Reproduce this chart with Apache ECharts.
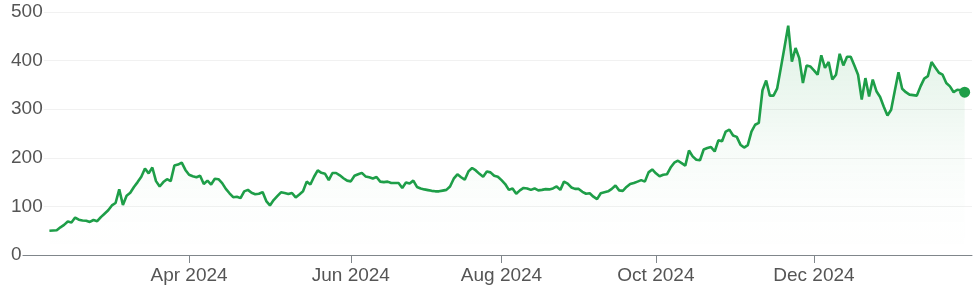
<!DOCTYPE html>
<html><head><meta charset="utf-8">
<script src="https://cdn.jsdelivr.net/npm/echarts@6/dist/echarts.min.js"></script>
<style>html,body{margin:0;padding:0;background:#fff}#c{width:980px;height:292px}</style>
</head><body><div id="c"></div>
<script>
// Trading-day calendar of the axis
const axisStart = '2024-01-24';
const axisEnd = '2025-02-05';
const dataStart = '2024-02-05';
const holidays = ['2024-02-19','2024-03-29','2024-05-27','2024-06-19','2024-07-04','2024-09-02',
  '2024-11-28','2024-12-25','2025-01-01','2025-01-09','2025-01-20'];
const tickDates = ['2024-04-01','2024-06-03','2024-08-01','2024-10-01','2024-12-02'];
const yTicks = [0, 100, 200, 300, 400, 500];

// Daily closing values, month by month
const pFeb24 = [50,50.5,51,57,62,69,67,77,72.6,71,70.6,68,72,69.5,78,85,92,102];
const pMar24 = [107,135,103,122,128,140,150,161,178,168,180,152,141,150,156,152,184,186,190,175];
const pApr24 = [165,162,160,163,146,153,145,157,156,148,136,127,119,120,117,131,134,128,125,126,129.5,111];
const pMay24 = [102,113,121,129,127.6,125.5,127.6,118.5,124.5,131,151,145,161,174,169,167,154,168.7,168.7,164,158,153];
const pJun24 = [151.5,163,166,169,161.7,160,157.5,160.5,151,150,151,148,148,148,138,149,147,153,140];
const pJul24 = [137,135,133.5,132,131,131,132.5,134,141,157,166,160,155,172,179,174,167,161,172,170,163,161];
const pAug24 = [154,146,134,137,126,133,138,137,134,137,133,134,135.5,135,137,141,134,151,147,139,136,136];
const pSep24 = [130,126,127,120,115,127,129,131,136,143,133,132,140,146,148,151,154,151,170,176];
const pOct24 = [168,162,165,166,180,190,194,189,184,215,203,196,195,217,220,222,213,236,234,254,258,246,243];
const pNov24 = [227,221,226,254,268,272,339,359,328,328,343,385,428,472,398,426,405,354,390,388];
const pDec24 = [380,371,411,385,397,361,371,414,390,408,408,390,371,320,364,326,361,337,325,305,287];
const pJan25 = [299,338,376,342,335,330,329,328,347,363,368,397,386,375,371,354,347,335,340,339];
const pFeb25 = [335];

const prices = [].concat(pFeb24,pMar24,pApr24,pMay24,pJun24,pJul24,pAug24,pSep24,pOct24,pNov24,pDec24,pJan25,pFeb25);

function tradingDays(a, b) {
  const out = [];
  const d = new Date(a + 'T00:00:00Z');
  const e = new Date(b + 'T00:00:00Z');
  while (d <= e) {
    const w = d.getUTCDay();
    const s = d.toISOString().slice(0, 10);
    if (w !== 0 && w !== 6 && holidays.indexOf(s) < 0) out.push(s);
    d.setUTCDate(d.getUTCDate() + 1);
  }
  return out;
}
const categories = tradingDays(axisStart, axisEnd);
const s0 = categories.indexOf(dataStart);
const lineData = categories.map((d, i) => (i >= s0 && i - s0 < prices.length) ? prices[i - s0] : null);
const lastIdx = s0 + prices.length - 1;

const MONTHS = ['Jan','Feb','Mar','Apr','May','Jun','Jul','Aug','Sep','Oct','Nov','Dec'];
const GREEN = '#1e9e48';
const FONT = '"Liberation Sans", Arial, sans-serif';
const showTick = (i, v) => tickDates.indexOf(v) >= 0;

const chart = echarts.init(document.getElementById('c'), null, {renderer: 'canvas'});
chart.setOption({
  animation: false,
  grid: {left: 20, right: 8, top: 12, bottom: 37, containLabel: false},
  xAxis: {
    type: 'category',
    data: categories,
    boundaryGap: false,
    axisLine: {lineStyle: {color: '#80868b', width: 1}},
    axisTick: {show: true, interval: showTick, length: 8, lineStyle: {color: '#80868b', width: 1}},
    axisLabel: {
      interval: showTick, margin: 11, color: '#555', fontSize: 19, fontFamily: FONT,
      formatter: v => MONTHS[+v.slice(5, 7) - 1] + ' ' + v.slice(0, 4)
    },
    splitLine: {show: false}
  },
  yAxis: {
    type: 'value',
    min: yTicks[0], max: yTicks[yTicks.length - 1], interval: 100,
    axisLine: {show: false}, axisTick: {show: false},
    axisLabel: {
      align: 'left', margin: 9, color: '#555', fontSize: 19, fontFamily: FONT,
      backgroundColor: '#fff', padding: [0, 1, 0, 0]
    },
    splitLine: {lineStyle: {color: '#f1f1f1', width: 1}}
  },
  series: [
    {
      type: 'line',
      data: lineData,
      showSymbol: false,
      lineStyle: {color: GREEN, width: 2.6},
      itemStyle: {color: GREEN},
      areaStyle: {
        color: {
          type: 'linear', x: 0, y: 0, x2: 0, y2: 1,
          colorStops: [
            {offset: 0, color: 'rgba(31,157,72,0.20)'},
            {offset: 0.3, color: 'rgba(31,157,72,0.12)'},
            {offset: 0.55, color: 'rgba(31,157,72,0.05)'},
            {offset: 0.8, color: 'rgba(31,157,72,0.012)'},
            {offset: 1, color: 'rgba(31,157,72,0)'}
          ]
        }
      },
      z: 2
    },
    {
      type: 'scatter',
      data: [[categories[lastIdx], prices[prices.length - 1]]],
      symbol: 'circle',
      symbolSize: 11,
      itemStyle: {color: GREEN, opacity: 1},
      emphasis: {disabled: true},
      z: 3
    }
  ]
});
</script>
</body></html>
